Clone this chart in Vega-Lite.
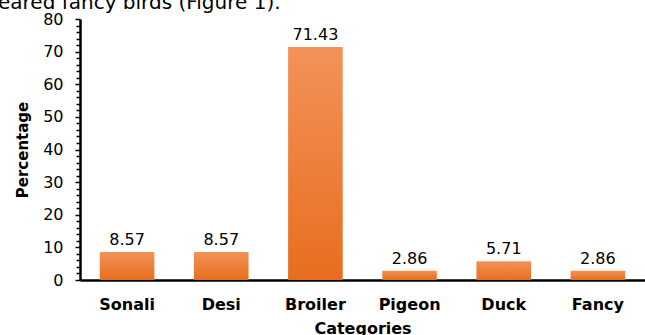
{
  "$schema": "https://vega.github.io/schema/vega-lite/v6.json",
  "autosize": "none",
  "width": 565,
  "height": 261,
  "padding": {"left": 80, "top": 19, "right": 0, "bottom": 55},
  "background": "white",
  "title": {
    "text": "eared fancy birds (Figure 1).",
    "anchor": "start",
    "frame": "group",
    "orient": "top",
    "offset": 0,
    "baseline": "alphabetic",
    "dx": -82,
    "dy": 18,
    "font": "DejaVu Sans",
    "fontSize": 20,
    "fontWeight": "normal",
    "color": "#000000"
  },
  "config": {
    "view": {"stroke": null},
    "font": "DejaVu Sans"
  },
  "data": {
    "values": [
      {"category": "Sonali", "percentage": 8.57},
      {"category": "Desi", "percentage": 8.57},
      {"category": "Broiler", "percentage": 71.43},
      {"category": "Pigeon", "percentage": 2.86},
      {"category": "Duck", "percentage": 5.71},
      {"category": "Fancy", "percentage": 2.86}
    ]
  },
  "encoding": {
    "x": {
      "field": "category",
      "type": "nominal",
      "sort": null,
      "scale": {"paddingInner": 0.42, "paddingOuter": 0.21},
      "axis": {
        "title": "Categories",
        "titleFont": "DejaVu Sans",
        "titleFontSize": 16,
        "titleFontWeight": "bold",
        "titleColor": "#000000",
        "titlePadding": 8,
        "labelAngle": 0,
        "labelFont": "DejaVu Sans",
        "labelFontSize": 16,
        "labelFontWeight": "bold",
        "labelColor": "#000000",
        "labelPadding": 16,
        "ticks": false,
        "domainColor": "#000000",
        "domainWidth": 2.5
      }
    },
    "y": {
      "field": "percentage",
      "type": "quantitative",
      "scale": {"domain": [0, 80], "nice": false},
      "axis": {
        "title": "Percentage",
        "titleFont": "DejaVu Sans",
        "titleFontSize": 15,
        "titleFontWeight": "bold",
        "titleColor": "#000000",
        "titlePadding": 12,
        "values": [0, 2, 4, 6, 8, 10, 12, 14, 16, 18, 20, 22, 24, 26, 28, 30, 32, 34, 36, 38, 40, 42, 44, 46, 48, 50, 52, 54, 56, 58, 60, 62, 64, 66, 68, 70, 72, 74, 76, 78, 80],
        "labelExpr": "datum.value % 10 === 0 ? datum.label : ''",
        "labelOverlap": false,
        "labelFont": "DejaVu Sans",
        "labelFontSize": 16,
        "labelColor": "#000000",
        "labelPadding": 12,
        "tickColor": "#000000",
        "tickWidth": 1.5,
        "tickSize": {"condition": {"test": "datum.value % 10 === 0", "value": 5}, "value": 4},
        "domainColor": "#000000",
        "domainWidth": 2.5,
        "grid": false
      }
    }
  },
  "layer": [
    {
      "mark": {
        "type": "bar",
        "color": {
          "gradient": "linear",
          "x1": 0, "y1": 0, "x2": 0, "y2": 1,
          "stops": [
            {"offset": 0, "color": "#F39259"},
            {"offset": 1, "color": "#E76E1E"}
          ]
        }
      }
    },
    {
      "mark": {
        "type": "text",
        "baseline": "alphabetic",
        "dy": -7,
        "font": "DejaVu Sans",
        "fontSize": 16,
        "color": "#000000"
      },
      "encoding": {
        "text": {"field": "percentage", "type": "quantitative", "format": ".2f"}
      }
    }
  ]
}
